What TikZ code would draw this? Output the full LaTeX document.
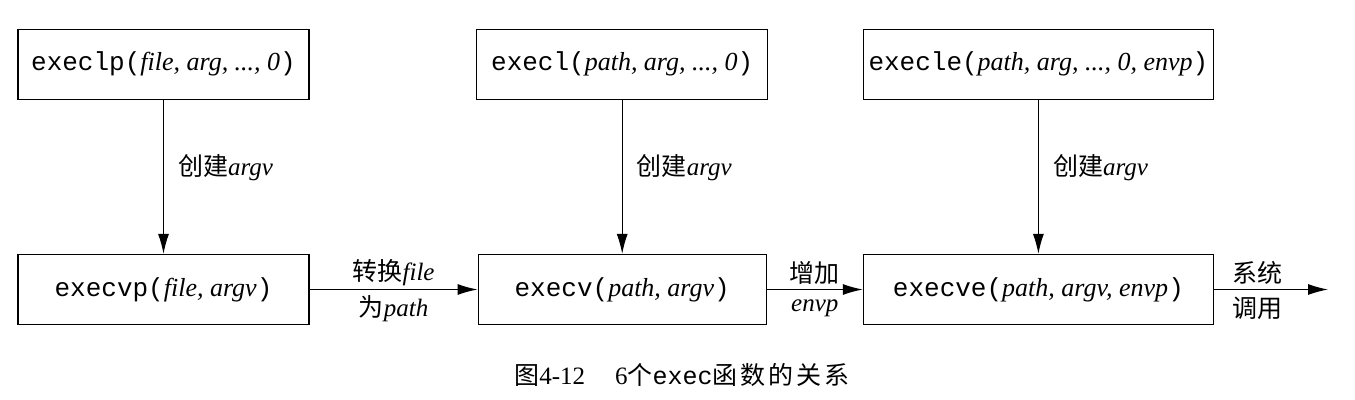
\documentclass[tikz,border=0pt]{standalone}
\usepackage{fontspec}
\setmainfont{Liberation Serif}
\setmonofont{Liberation Mono}
\newfontfamily\cjk{Noto Sans CJK SC}
\newfontfamily\cjkcap[LetterSpace=12]{Noto Sans CJK SC}
\usetikzlibrary{arrows.meta,positioning}

\begin{document}
\begin{tikzpicture}[x=0.5pt, y=-0.5pt, font=\fontsize{13}{15}\selectfont, node distance=77pt]
\tikzstyle{fnbox}=[draw, line width=0.6pt, minimum height=35pt, inner sep=2pt]
\tikzstyle{lbl}=[font=\fontsize{12.5}{14}\selectfont, inner sep=1pt]
\tikzstyle{arr}=[line width=0.6pt, -{Latex[length=10pt,width=5.5pt]}]
\useasboundingbox (0,0) rectangle (1355,400);
% bottom row
\node[fnbox, minimum width=145.5pt] (execvp) at (163.5,289.5) {{\ttfamily execvp(}\textit{file, argv}{\ttfamily)}};
\node[fnbox, minimum width=144pt, right=84pt of execvp] (execv) {{\ttfamily execv(}\textit{path, argv}{\ttfamily)}};
\node[fnbox, minimum width=175pt, right=48pt of execv] (execve) {{\ttfamily execve(}\textit{path, argv, envp}{\ttfamily)}};
\coordinate[right=57pt of execve] (syscall);
% top row
\node[fnbox, minimum width=145.5pt, above=of execvp] (execlp) {{\ttfamily execlp(}\textit{file, arg, ..., 0}{\ttfamily)}};
\node[fnbox, minimum width=145.5pt, above=of execv] (execl) {{\ttfamily execl(}\textit{path, arg, ..., 0}{\ttfamily)}};
\node[fnbox, minimum width=175pt, above=of execve] (execle) {{\ttfamily execle(}\textit{path, arg, ..., 0, envp}{\ttfamily)}};
\draw[arr] (execlp) -- node[lbl, right=6pt, pos=0.44] {{\cjk 创建}\textit{argv}} (execvp);
\draw[arr] (execl) -- node[lbl, right=6pt, pos=0.44] {{\cjk 创建}\textit{argv}} (execv);
\draw[arr] (execle) -- node[lbl, right=6pt, pos=0.44] {{\cjk 创建}\textit{argv}} (execve);
\draw[arr] (execvp) -- node[lbl, yshift=8.5pt] {{\cjk 转换}\textit{file}} node[lbl, yshift=-9.5pt] {{\cjk 为}\textit{path}} (execv);
\draw[arr] (execv) -- node[lbl, yshift=8.5pt] {\cjk 增加} node[lbl, yshift=-9.5pt] {\textit{envp}} (execve);
\draw[arr] (execve) -- node[lbl, pos=0.38, yshift=8.5pt] {\cjk 系统} node[lbl, pos=0.38, yshift=-9.5pt] {\cjk 调用} (syscall);
% caption
\node[font=\fontsize{12.5}{14}\selectfont] (caption) at (682,375) {{\cjk 图}4-12\hspace{15pt}6{\cjk 个}\texttt{exec}{\cjkcap 函数的关系}};
\end{tikzpicture}
\end{document}
